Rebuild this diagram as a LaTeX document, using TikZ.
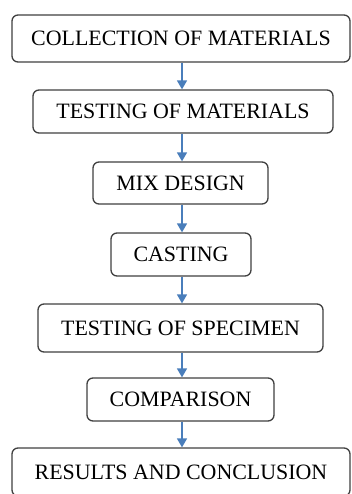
\documentclass[tikz,border=0pt]{standalone}
\usepackage{fontspec}
\setmainfont{Liberation Serif}
\usetikzlibrary{arrows.meta}
\definecolor{arrowblue}{HTML}{4A7EBB}
\tikzset{
  stepbox/.style={draw=black!75, line width=1.3bp, rounded corners=6bp, fill=white,
    inner sep=0pt, align=center, font=\fontsize{22}{25}\selectfont, text=black},
  flow/.style={draw=arrowblue, line width=1.6bp, -{Triangle[width=10bp,length=9bp]}, fill=arrowblue}
}
\begin{document}
\begin{tikzpicture}[x=1bp,y=-1bp]
\useasboundingbox (0,0) rectangle (351,494);
\begin{scope}
\clip (0,0) rectangle (351,494);
\node[stepbox, minimum width=338bp, minimum height=47bp] (b1) at (181,38.5) {COLLECTION OF MATERIALS};
\node[stepbox, minimum width=300bp, minimum height=43bp] (b2) at (183,111.5) {TESTING OF MATERIALS};
\node[stepbox, minimum width=175bp, minimum height=42bp] (b3) at (180.5,183) {MIX DESIGN};
\node[stepbox, minimum width=140bp, minimum height=43bp] (b4) at (181,254.5) {CASTING};
\node[stepbox, minimum width=285bp, minimum height=48bp] (b5) at (180.5,328) {TESTING OF SPECIMEN};
\node[stepbox, minimum width=187bp, minimum height=43bp] (b6) at (180.5,399.5) {COMPARISON};
\node[stepbox, minimum width=338bp, minimum height=48bp] (b7) at (181,472) {RESULTS AND CONCLUSION};
\foreach \a/\b in {b1/b2,b2/b3,b3/b4,b4/b5,b5/b6,b6/b7}
  \draw[flow] (\a.south -| 182,0) -- (\b.north -| 182,0);
\end{scope}
\end{tikzpicture}
\end{document}
